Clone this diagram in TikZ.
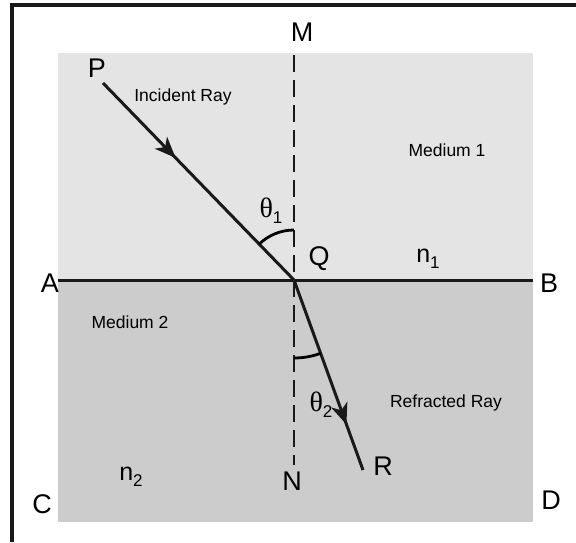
\documentclass[tikz,border=0pt]{standalone}
\usepackage{fontspec}
\setmainfont{Liberation Sans}
\newfontfamily\greekfont{Liberation Serif}
\usetikzlibrary{arrows.meta,decorations.markings,angles}
\definecolor{mediumone}{HTML}{E4E4E4}
\definecolor{mediumtwo}{HTML}{CCCCCC}
\newcommand{\lowsub}[1]{\raisebox{-6pt}{\normalfont\fontsize{17}{19}\selectfont #1}}
\tikzset{
  ray/.style={line width=3pt, black!90},
  tag/.style={font=\fontsize{27}{29}\selectfont, inner sep=0pt},
  caption/.style={font=\fontsize{17.5}{20}\selectfont, inner sep=0pt},
  arrowat/.style={postaction={decorate}, decoration={markings,
    mark=at position #1 with {\arrow{Stealth[length=21pt,width=17pt,inset=6pt]}}}}
}
\begin{document}
\begin{tikzpicture}[x=1pt,y=-1pt]
\useasboundingbox (0,0) rectangle (576,542);
% frame and the two media
\draw[line width=3.2pt, black!90] (10,5) -- (576,5);
\draw[line width=3.2pt, black!90] (12,5) -- (12,542);
\fill[mediumone] (58,53) rectangle (533,280);
\fill[mediumtwo] (58,280) rectangle (533,522);

\coordinate (Aend) at (58,280);
\coordinate (Bend) at (533,280);
\coordinate (Q) at (294,280);
\coordinate (P) at (103,83);
\coordinate (R) at (363,470);
\coordinate (Mtop) at (294,55);
\coordinate (Nbot) at (294,465);

\draw[line width=3pt, black!90] (Aend) -- (Bend);
\draw[line width=2.8pt, black!90, dash pattern=on 17pt off 8pt] (Mtop) -- (Nbot);
\draw[ray, arrowat=0.38] (P) -- (Q);
\draw[ray, arrowat=0.76] (Q) -- (R);
\pic[draw, line width=2.8pt, angle radius=50pt] {angle = Mtop--Q--P};
\pic[draw, line width=2.8pt, angle radius=78pt] {angle = Nbot--Q--R};

% letters
\node (M) [tag] at (302,32) {M};
\node (Plabel) [tag] at (97,68) {P};
\node (Qlabel) [tag] at (319,259) {Q};
\node (A) [tag] at (50,283) {A};
\node (B) [tag] at (549,283) {B};
\node (N) [tag] at (292,481) {N};
\node (Rlabel) [tag] at (383,466) {R};
\node (C) [tag] at (42,504) {C};
\node (D) [tag] at (551,500) {D};
\node (n1) [tag, font=\fontsize{25}{27}\selectfont] at (428,259) {n\lowsub{1}};
\node (n2) [tag, font=\fontsize{25}{27}\selectfont] at (131,477) {n\lowsub{2}};
\node (th1) [tag, font=\fontsize{28}{30}\selectfont] at (271,211) {\greekfont θ\lowsub{1}};
\node (th2) [tag, font=\fontsize{28}{30}\selectfont] at (321,405) {\greekfont θ\lowsub{2}};

% captions
\node (incident) [caption] at (183,97) {Incident Ray};
\node (med1) [caption] at (447,150) {Medium 1};
\node (med2) [caption] at (130,322) {Medium 2};
\node (refracted) [caption] at (446,403) {Refracted Ray};
\end{tikzpicture}
\end{document}
